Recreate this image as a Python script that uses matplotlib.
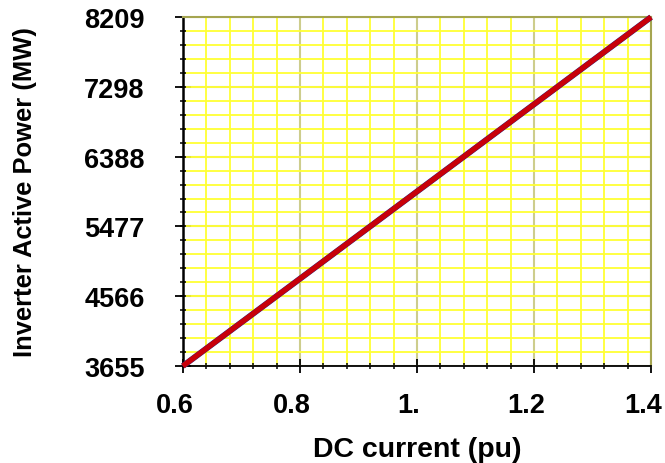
import matplotlib.pyplot as plt
from matplotlib.ticker import FixedLocator, FixedFormatter
from matplotlib.transforms import ScaledTranslation

# DC current sweep and the resulting inverter active power
dc_current = [0.6, 0.8, 1.0, 1.2, 1.4]
inverter_power = [3655, 4793.5, 5932, 7070.5, 8209]

y_ticks = [3655, 4566, 5477, 6388, 7298, 8209]
x_ticks = [0.6, 0.8, 1.0, 1.2, 1.4]
x_labels = ['0.6', '0.8', '1.', '1.2', '1.4']

plt.rcParams['font.family'] = ['Liberation Sans', 'DejaVu Sans']

fig = plt.figure(figsize=(6.65, 4.64), dpi=100)
ax = fig.add_axes([0.275, 0.209, 0.704, 0.752])

ax.set_xlim(0.6, 1.4)
ax.set_ylim(3655, 8209)

# five subdivisions between each pair of major ticks
ax.xaxis.set_major_locator(FixedLocator(x_ticks))
ax.xaxis.set_major_formatter(FixedFormatter(x_labels))
minor_x = [0.6 + 0.04 * i for i in range(21)]
ax.xaxis.set_minor_locator(FixedLocator(minor_x))
ax.yaxis.set_major_locator(FixedLocator(y_ticks))
minor_y = [3655 + (8209 - 3655) / 25 * i for i in range(26)]
ax.yaxis.set_minor_locator(FixedLocator(minor_y))

# yellow minor grid, olive major grid
ax.grid(which='minor', color='#ffff33', linewidth=1.3, zorder=0)
ax.grid(which='major', color='#cdcd8c', linewidth=1.5, zorder=0)
ax.set_axisbelow(True)

ax.plot(dc_current, inverter_power, color='#2a2a80', linewidth=4.3,
        solid_capstyle='butt', zorder=3, clip_on=False)
ax.plot(dc_current, inverter_power, color='#c8000a', linewidth=3.8,
        solid_capstyle='butt', zorder=4, clip_on=False)

for side in ['top', 'right']:
    ax.spines[side].set_color('#a5a550')
    ax.spines[side].set_linewidth(1.5)
ax.spines['left'].set_color('black')
ax.spines['left'].set_linewidth(1.8)
ax.spines['bottom'].set_color('black')
ax.spines['bottom'].set_linewidth(1.3)

ax.tick_params(axis='y', which='major', direction='inout', length=11, width=1.3,
               colors='black', labelsize=19.5, pad=22)
ax.tick_params(axis='x', which='major', direction='inout', length=10, width=1.3,
               colors='black', labelsize=19.5, pad=13.5)
ax.tick_params(which='minor', direction='inout', length=5, width=1.1, colors='black')

# x tick labels sit a little left of their ticks
shift = ScaledTranslation(-8 / 100, 0, fig.dpi_scale_trans)
for lbl in ax.get_xticklabels():
    lbl.set_fontweight('bold')
    lbl.set_transform(lbl.get_transform() + shift)
for lbl in ax.get_yticklabels():
    lbl.set_fontweight('bold')

ax.set_xlabel('DC current (pu)', fontsize=20.5, fontweight='bold', labelpad=13)
ax.set_ylabel('Inverter Active Power (MW)', fontsize=18.4, fontweight='bold', labelpad=34)

fig.savefig('out.png', dpi=100)
